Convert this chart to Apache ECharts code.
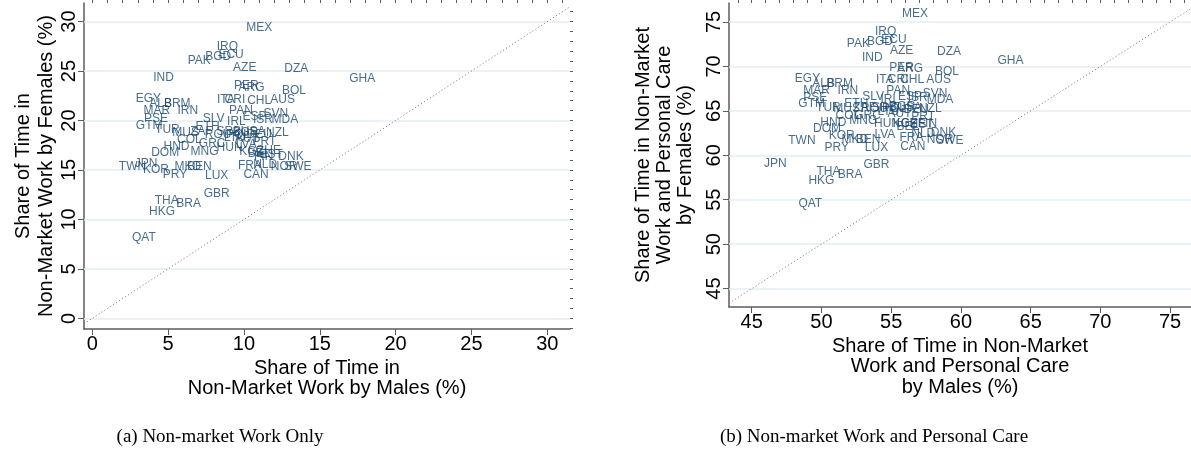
<!DOCTYPE html>
<html>
<head>
<meta charset="utf-8">
<script src="https://cdn.jsdelivr.net/npm/echarts@6/dist/echarts.min.js"></script>
<style>html,body{margin:0;padding:0;background:#fff;}#c{width:1191px;height:468px;}</style>
</head>
<body>
<div id="c"></div>
<script>
const codes = ['MEX','IRQ','BGD','ECU','PAK','AZE','DZA','IND','GHA','PER','ARG','BOL','EGY','ALB','BRM','ITA','CRI','CHL','AUS','MAR','IRN','PAN','PSE','SLV','IRL','ESP','ISR','SVN','MDA','GTM','TUR','MUS','ETH','ZAF','ROU','SRB','POL','BGR','USA','DEU','AUT','LTU','COL','GRC','MNG','HND','DOM','HUN','LVA','PRT','NZL','KGZ','CHE','EST','FIN','BEL','DNK','FRA','NLD','NOR','SWE','CAN','LUX','TWN','JPN','KOR','PRY','MKD','BEN','GBR','THA','BRA','HKG','QAT'];
const maleNM = [11.0,8.9,8.3,9.15,7.05,10.05,13.45,4.7,17.8,10.15,10.5,13.3,3.7,4.5,5.6,8.8,9.4,11.0,12.55,4.25,6.3,9.8,4.2,8.0,9.5,10.7,11.25,12.1,12.7,3.75,4.95,6.15,7.6,7.2,8.3,9.0,9.6,10.1,10.6,11.0,10.2,9.4,6.4,7.9,7.4,5.55,4.8,9.05,10.15,11.35,12.2,10.5,11.6,11.8,11.3,11.0,13.1,10.4,11.4,12.65,13.55,10.8,8.2,2.65,3.55,4.2,5.45,6.3,7.05,8.2,4.9,6.35,4.6,3.4];
const femaleNM = [29.4,27.5,26.45,26.7,26.05,25.35,25.2,24.3,24.2,23.55,23.3,23.05,22.25,21.75,21.65,22.15,22.15,22.0,22.15,21.0,21.0,21.0,20.2,20.2,19.9,20.4,20.1,20.65,20.05,19.45,19.1,18.75,19.35,18.85,18.6,18.9,18.6,18.8,18.9,18.55,18.2,18.3,18.1,17.7,16.8,17.35,16.7,17.25,17.6,17.85,18.8,16.8,16.95,16.5,16.3,16.6,16.3,15.45,15.5,15.35,15.3,14.5,14.4,15.35,15.6,15.0,14.55,15.35,15.35,12.65,11.9,11.55,10.8,8.2];
const maleNMPC = [56.7,54.6,54.2,55.2,52.65,55.75,59.15,53.65,63.55,55.75,56.35,59.0,49.0,50.15,51.3,54.55,55.5,56.5,58.4,49.65,51.9,55.5,49.55,53.7,54.9,56.35,56.9,58.15,58.5,49.3,50.5,51.8,52.5,53.1,53.8,54.5,55.2,55.8,56.3,56.8,55.6,54.8,51.9,53.3,53.0,50.85,50.4,54.7,54.55,57.3,57.8,56.0,56.6,57.2,57.6,56.2,58.75,56.45,57.3,58.5,59.2,56.55,53.95,48.6,46.7,51.45,51.1,52.4,53.35,53.95,50.5,52.05,50.0,49.2];
const femaleNMPC = [75.9,73.9,72.8,73.0,72.5,71.75,71.65,71.0,70.65,69.8,69.7,69.45,68.65,68.1,68.0,68.45,68.45,68.45,68.45,67.25,67.3,67.3,66.45,66.6,66.3,66.6,66.5,66.95,66.3,65.75,65.4,65.25,65.75,65.3,65.2,65.4,65.2,65.5,65.3,65.1,64.7,64.9,64.5,64.4,63.9,63.7,62.95,63.6,62.35,64.3,65.2,63.5,63.6,63.4,63.6,63.2,62.5,61.95,62.4,61.7,61.6,60.95,60.8,61.6,59.0,62.25,60.9,61.7,61.7,58.95,58.2,57.85,57.1,54.55];
const leftTicks = [0,5,10,15,20,25,30];
const rightTicks = [45,50,55,60,65,70,75];
const leftRange = {xmin:-0.55, xmax:31.5, ymin:-1.08, ymax:31.88};
const rightRange = {xmin:43.37, xmax:76.5, ymin:42.93, ymax:77.13};

const FONT = '"Liberation Sans", Arial, sans-serif';
const AXIS_COLOR = '#5c5c5c';
const LABEL_COLOR = '#1a476f';
const GRID_COLOR = '#e4eef2';

function ints(a, b){const r=[];for(let v=Math.ceil(a);v<=Math.floor(b);v++)r.push(v);return r;}

function majorX(gridIndex, range, ticks){
  return {type:'value', gridIndex, min:range.xmin, max:range.xmax, splitLine:{show:false},
    axisLine:{show:true, onZero:false, lineStyle:{color:AXIS_COLOR,width:1.5}},
    axisTick:{show:true, customValues:ticks, length:6, lineStyle:{color:AXIS_COLOR,width:1}},
    axisLabel:{show:true, customValues:ticks, color:'#000', fontSize:20, fontFamily:FONT, margin:5}};
}
function minorX(gridIndex, range){
  return {type:'value', gridIndex, min:range.xmin, max:range.xmax, splitLine:{show:false},
    axisLine:{show:false, onZero:false},
    axisTick:{show:true, customValues:ints(range.xmin, range.xmax), length:3, lineStyle:{color:AXIS_COLOR,width:1}},
    axisLabel:{show:false}};
}
function majorY(gridIndex, range, ticks){
  return {type:'value', gridIndex, min:range.ymin, max:range.ymax, splitLine:{show:false},
    axisLine:{show:true, onZero:false, lineStyle:{color:AXIS_COLOR,width:1.5}},
    axisTick:{show:true, customValues:ticks, length:6, lineStyle:{color:AXIS_COLOR,width:1}},
    axisLabel:{show:true, customValues:ticks, rotate:90, color:'#000', fontSize:20, fontFamily:FONT, margin:5}};
}
function minorY(gridIndex, range){
  return {type:'value', gridIndex, min:range.ymin, max:range.ymax, splitLine:{show:false},
    axisLine:{show:false, onZero:false},
    axisTick:{show:true, customValues:ints(range.ymin, range.ymax), length:3, lineStyle:{color:AXIS_COLOR,width:1}},
    axisLabel:{show:false}};
}

function pointSeries(xi, yi, xs, ys, ticks){
  return {type:'scatter', xAxisIndex:xi, yAxisIndex:yi, symbol:'circle', symbolSize:1,
    itemStyle:{color:'rgba(0,0,0,0)'}, silent:true, z:3,
    label:{show:true, position:'inside', formatter:'{b}', color:LABEL_COLOR, fontSize:12, fontFamily:FONT},
    data: codes.map((c,i)=>({name:c, value:[xs[i], ys[i]]})),
    markLine:{silent:true, symbol:['none','none'], label:{show:false}, z:1,
      lineStyle:{color:GRID_COLOR, width:1.5, type:'solid'},
      data: ticks.map(v=>({yAxis:v}))}};
}
function diagSeries(xi, yi, range){
  const lo = Math.max(range.xmin, range.ymin), hi = Math.min(range.xmax, range.ymax);
  return {type:'line', xAxisIndex:xi, yAxisIndex:yi, symbol:'none', silent:true, clip:true, z:2,
    lineStyle:{color:'#6e6e6e', width:1, type:[1,2.5]},
    data:[[lo,lo],[hi,hi]]};
}

const chart = echarts.init(document.getElementById('c'), null, {renderer:'canvas', width:1191, height:468});
chart.setOption({
  animation:false,
  backgroundColor:'#ffffff',
  grid:[
    {left:84, right:621, top:3, bottom:139},
    {left:729, right:0, top:3, bottom:161}
  ],
  xAxis:[majorX(0,leftRange,leftTicks), minorX(0,leftRange), majorX(1,rightRange,rightTicks), minorX(1,rightRange)],
  yAxis:[majorY(0,leftRange,leftTicks), minorY(0,leftRange), majorY(1,rightRange,rightTicks), minorY(1,rightRange)],
  series:[
    diagSeries(0,0,leftRange),
    pointSeries(0,0,maleNM,femaleNM,leftTicks),
    diagSeries(2,2,rightRange),
    pointSeries(2,2,maleNMPC,femaleNMPC,rightTicks)
  ],
  graphic:[
    {type:'text', x:35, y:166, rotation:Math.PI/2, style:{text:'Share of Time in\nNon-Market Work by Females (%)', fontSize:20, fontFamily:FONT, fill:'#000', align:'center', verticalAlign:'middle', lineHeight:23}},
    {type:'text', x:327, y:358, style:{text:'Share of Time in\nNon-Market Work by Males (%)', fontSize:20, fontFamily:FONT, fill:'#000', align:'center', verticalAlign:'top', lineHeight:20}},
    {type:'text', x:664, y:155, rotation:Math.PI/2, style:{text:'Share of Time in Non-Market\nWork and Personal Care\nby Females (%)', fontSize:20, fontFamily:FONT, fill:'#000', align:'center', verticalAlign:'middle', lineHeight:21}},
    {type:'text', x:960, y:336, style:{text:'Share of Time in Non-Market\nWork and Personal Care\nby Males (%)', fontSize:20, fontFamily:FONT, fill:'#000', align:'center', verticalAlign:'top', lineHeight:20.5}},
    {type:'text', x:220, y:437, style:{text:'(a) Non-market Work Only', fontSize:19, fontFamily:'"Liberation Serif", serif', fill:'#000', align:'center', verticalAlign:'middle'}},
    {type:'text', x:874, y:437, style:{text:'(b) Non-market Work and Personal Care', fontSize:19, fontFamily:'"Liberation Serif", serif', fill:'#000', align:'center', verticalAlign:'middle'}}
  ]
});
</script>
</body>
</html>
